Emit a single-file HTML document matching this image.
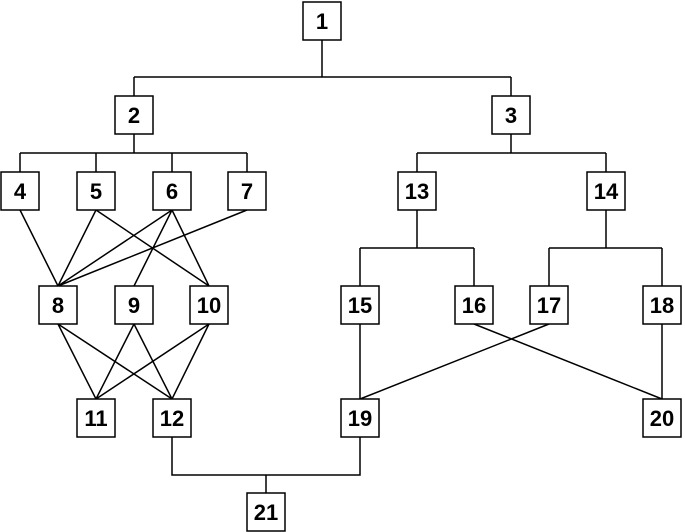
<!DOCTYPE html>
<html><head><style>html,body{margin:0;padding:0;background:#fff}svg{display:block}</style></head>
<body>
<svg width="685" height="532" xmlns="http://www.w3.org/2000/svg">
<g stroke="#000" stroke-width="1.5" fill="none">
<path d="M322 40V77M134 77H511M134 77V96M511 77V96"/>
<path d="M134 134V153M20 153H247M20 153V172M96 153V172M172 153V172M247 153V172"/>
<path d="M511 134V153M417 153H606M417 153V172M606 153V172"/>
<path d="M417 210V248M360 248H474M360 248V286M474 248V286"/>
<path d="M606 210V248M549 248H662M549 248V286M662 248V286"/>
<path d="M360 324V399M662 324V399"/>
<path d="M474 324L662 399M549 324L360 399"/>
<path d="M172 437V475H360V437M266 475V493"/>
<path d="M20 210L58 286M96 210L58 286M96 210L209 286M172 210L58 286M172 210L134 286M172 210L209 286M247 210L58 286"/>
<path d="M58 324L96 399M58 324L172 399M134 324L96 399M134 324L172 399M209 324L96 399M209 324L172 399"/>
</g>
<g fill="#fff" stroke="#000" stroke-width="1.5">
<rect x="303" y="2" width="38" height="38"/>
<rect x="115" y="96" width="38" height="38"/>
<rect x="492" y="96" width="38" height="38"/>
<rect x="1" y="172" width="38" height="38"/>
<rect x="77" y="172" width="38" height="38"/>
<rect x="153" y="172" width="38" height="38"/>
<rect x="228" y="172" width="38" height="38"/>
<rect x="398" y="172" width="38" height="38"/>
<rect x="587" y="172" width="38" height="38"/>
<rect x="39" y="286" width="38" height="38"/>
<rect x="115" y="286" width="38" height="38"/>
<rect x="190" y="286" width="38" height="38"/>
<rect x="341" y="286" width="38" height="38"/>
<rect x="455" y="286" width="38" height="38"/>
<rect x="530" y="286" width="38" height="38"/>
<rect x="643" y="286" width="38" height="38"/>
<rect x="77" y="399" width="38" height="38"/>
<rect x="153" y="399" width="38" height="38"/>
<rect x="341" y="399" width="38" height="38"/>
<rect x="643" y="399" width="38" height="38"/>
<rect x="247" y="493" width="38" height="38"/>
</g>
<g font-family="Liberation Sans, sans-serif" font-weight="bold" font-size="22" text-anchor="middle" fill="#000">
<text x="322" y="29">1</text>
<text x="134" y="123">2</text>
<text x="511" y="123">3</text>
<text x="20" y="199">4</text>
<text x="96" y="199">5</text>
<text x="172" y="199">6</text>
<text x="247" y="199">7</text>
<text x="417" y="199">13</text>
<text x="606" y="199">14</text>
<text x="58" y="313">8</text>
<text x="134" y="313">9</text>
<text x="209" y="313">10</text>
<text x="360" y="313">15</text>
<text x="474" y="313">16</text>
<text x="549" y="313">17</text>
<text x="662" y="313">18</text>
<text x="96" y="426">11</text>
<text x="172" y="426">12</text>
<text x="360" y="426">19</text>
<text x="662" y="426">20</text>
<text x="266" y="520">21</text>
</g>
</svg>
</body></html>
